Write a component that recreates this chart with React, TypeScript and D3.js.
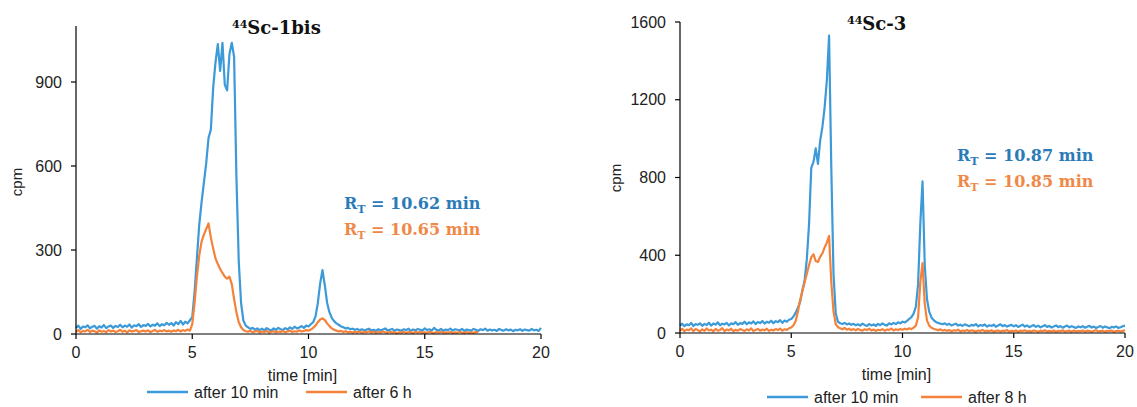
import React from 'react';
import * as d3 from 'd3';

// sampling step of the traces (min)
const STEP = 0.1;

// 44Sc-1bis, after 10 min (cpm, 0 .. 20 min)
const leftBlue = [
  22, 30, 18, 27, 24, 31, 20, 26, 29, 19,
  28, 23, 32, 21, 27, 30, 22, 29, 25, 33,
  24, 30, 26, 34, 23, 31, 28, 35, 25, 32,
  29, 36, 27, 33, 30, 38, 28, 35, 31, 40,
  33, 39, 30, 42, 35, 47, 34, 44, 38, 49,
  60, 150, 270, 390, 470, 540, 610, 700, 730, 880,
  970, 1035, 940, 1040, 890, 870, 1000, 1040, 990, 560,
  260, 110, 48, 30, 24, 18, 22, 15, 20, 14,
  19, 13, 21, 16, 12, 20, 15, 22, 17, 14,
  21, 16, 24, 18, 26, 20, 23, 28, 22, 30,
  27, 35, 42, 62, 110, 180, 228, 175, 112, 78,
  58, 46, 38, 33, 27, 24, 20, 22, 17, 19,
  15, 18, 13, 17, 12, 16, 19, 13, 15, 11,
  17, 13, 16, 20, 12, 15, 18, 11, 16, 14,
  12, 17, 14, 19, 11, 16, 13, 18, 15, 12,
  20, 14, 17, 12, 22, 15, 13, 18, 11, 16,
  14, 19, 12, 17, 15, 13, 18, 11, 16, 14,
  12, 18, 15, 11, 17, 14, 19, 12, 16, 13,
  15, 11, 18, 14, 12, 17, 13, 16, 10, 15,
  13, 17, 11, 16, 14, 12, 18, 13, 15, 11,
  22,
];

// 44Sc-1bis, after 6 h (0 .. 17.3 min)
const leftOrange = [
  8, 14, 6, 11, 9, 15, 7, 12, 10, 5,
  13, 8, 11, 6, 14, 9, 12, 7, 10, 15,
  8, 12, 6, 13, 9, 11, 14, 7, 10, 12,
  9, 13, 7, 11, 15, 8, 12, 10, 14, 9,
  12, 8, 13, 10, 15, 9, 14, 11, 16, 12,
  35, 110, 205, 280, 330, 355, 375, 395, 345, 305,
  270, 250, 232, 218, 205, 198, 205, 178, 125, 78,
  42, 24, 14, 10, 8, 12, 6, 9, 11, 5,
  9, 7, 11, 5, 8, 10, 6, 9, 7, 11,
  6, 9, 12, 7, 10, 8, 13, 9, 11, 14,
  12, 16, 22, 30, 42, 52, 56, 50, 38, 28,
  20, 15, 12, 9, 11, 7, 10, 6, 8, 5,
  8, 5, 9, 4, 7, 6, 10, 5, 8, 4,
  7, 5, 9, 6, 4, 8, 5, 7, 3, 6,
  5, 8, 4, 7, 6, 3, 8, 5, 7, 4,
  6, 4, 8, 5, 3, 7, 5, 8, 4, 6,
  5, 7, 3, 6, 4, 8, 5, 3, 7, 4,
  6, 4, 7, 5,
];

// 44Sc-3, after 10 min
const rightBlue = [
  38, 48, 35, 45, 40, 52, 36, 46, 42, 50,
  37, 47, 41, 53, 38, 49, 43, 55, 40, 48,
  44, 52, 39, 50, 45, 56, 42, 51, 47, 58,
  45, 55, 49, 60, 46, 57, 51, 62, 48, 58,
  53, 63, 50, 61, 56, 66, 52, 64, 58, 68,
  72, 85, 105, 130, 160, 220, 270, 380, 560, 850,
  880, 950, 870, 990, 1060, 1160, 1300, 1530, 850, 300,
  100, 58, 50, 46, 52, 44, 49, 42, 47, 40,
  45, 38, 48, 41, 36, 46, 39, 44, 37, 47,
  40, 49, 42, 38, 50, 44, 52, 46, 55, 50,
  58, 54, 62, 72, 82, 100, 135, 250, 560, 780,
  350, 175, 110, 80, 66, 57, 52, 48, 45, 50,
  42, 47, 39, 44, 48, 38, 43, 36, 45, 40,
  35, 42, 38, 46, 34, 41, 37, 44, 33, 40,
  36, 43, 32, 39, 45, 35, 41, 33, 38, 42,
  34, 40, 31, 37, 43, 33, 39, 30, 36, 41,
  32, 38, 29, 35, 40, 31, 37, 28, 34, 39,
  30, 36, 27, 33, 38, 29, 35, 31, 26, 34,
  29, 35, 27, 32, 37, 28, 33, 26, 31, 36,
  27, 33, 29, 24, 32, 28, 34, 26, 30, 35,
  38,
];

// 44Sc-3, after 8 h
const rightOrange = [
  12, 22, 9, 18, 14, 24, 10, 20, 15, 8,
  19, 11, 23, 13, 17, 9, 21, 12, 16, 25,
  10, 18, 14, 22, 9, 17, 12, 20, 15, 11,
  19, 13, 24, 10, 16, 21, 12, 18, 14, 22,
  11, 17, 13, 20, 15, 23, 12, 19, 16, 24,
  28, 40, 62, 110, 170, 215, 260, 305, 350, 390,
  405, 370, 365, 392, 410, 440, 465, 500, 260, 110,
  45, 30, 24, 19, 26, 17, 22, 15, 20, 14,
  21, 16, 12, 19, 15, 22, 13, 18, 11, 17,
  14, 20, 12, 18, 16, 23, 13, 19, 15, 21,
  17, 22, 18, 24, 20, 28, 38, 80, 260, 360,
  150, 65, 38, 27, 22, 18, 14, 19, 12, 16,
  11, 15, 9, 14, 12, 17, 8, 13, 10, 15,
  9, 14, 11, 7, 13, 10, 16, 8, 12, 9,
  14, 7, 11, 13, 8, 12, 10, 15, 7, 11,
  9, 13, 6, 12, 10, 14, 8, 11, 7, 13,
  10, 6, 12, 9, 14, 7, 11, 8, 13, 6,
  11, 9, 14, 7, 10, 12, 6, 13, 8, 11,
  9, 13, 7, 12, 10, 6, 11, 14, 8, 10,
  12, 7, 11, 9, 13, 6, 10, 12, 8, 11,
  14,
];

const xTicks = [0, 5, 10, 15, 20];
const leftYTicks = [0, 300, 600, 900];
const rightYTicks = [0, 400, 800, 1200, 1600];

const BLUE = '#3c9ad8';
const ORANGE = '#f5823a';
const BLUE_TXT = '#2a7bb8';
const ORANGE_TXT = '#f08848';
const SANS = '"Liberation Sans", Arial, sans-serif';
const SERIF = '"DejaVu Serif", serif';

type PanelProps = {
  x0: number; x1: number; yBase: number; yTop: number; yMax: number;
  yTicks: number[];
  title: string; titleX: number;
  blue: number[]; orange: number[];
  rtBlue: string; rtOrange: string; rtX: number; rtY: number;
  legendY: number; legendBlueX: number; legendOrangeX: number; orangeLabel: string;
  cpmX: number; cpmY: number;
};

const Panel = (p: PanelProps) => {
  const x = d3.scaleLinear().domain([0, 20]).range([p.x0, p.x1]);
  const y = d3.scaleLinear().domain([0, p.yMax]).range([p.yBase, p.yTop]);
  const line = d3.line<number>()
    .x((_, i) => x(i * STEP))
    .y(d => y(d));

  return (
    <g>
      {/* traces, later series on top like the spreadsheet */}
      <path d={line(p.blue) ?? ''} fill="none" stroke={BLUE} strokeWidth={2.2} strokeLinejoin="round" />
      <path d={line(p.orange) ?? ''} fill="none" stroke={ORANGE} strokeWidth={2.2} strokeLinejoin="round" />

      {/* axes */}
      <line x1={p.x0} x2={p.x0} y1={p.yBase} y2={p.yTop} stroke="#000" strokeWidth={1.2} />
      <line x1={p.x0} x2={p.x1} y1={p.yBase} y2={p.yBase} stroke="#000" strokeWidth={1.2} />
      {p.yTicks.map(t => (
        <g key={'y' + t}>
          <line x1={p.x0 - 5} x2={p.x0} y1={y(t)} y2={y(t)} stroke="#000" strokeWidth={1.2} />
          <text x={p.x0 - 14} y={y(t)} dy="0.35em" textAnchor="end" fontFamily={SANS} fontSize={16} fill="#222">{t}</text>
        </g>
      ))}
      {xTicks.map(t => (
        <g key={'x' + t}>
          <line x1={x(t)} x2={x(t)} y1={p.yBase} y2={p.yBase + 5} stroke="#000" strokeWidth={1.2} />
          <text x={x(t)} y={p.yBase + 18} dy="0.35em" textAnchor="middle" fontFamily={SANS} fontSize={16} fill="#222">{t}</text>
        </g>
      ))}
      <text x={(p.x0 + p.x1) / 2 - 6} y={p.yBase + 41} dy="0.35em" textAnchor="middle" fontFamily={SANS} fontSize={16} fill="#222">time [min]</text>
      <text transform={`translate(${p.cpmX},${p.cpmY}) rotate(-90)`} dy="0.35em" textAnchor="middle" fontFamily={SANS} fontSize={15} fill="#222">cpm</text>

      {/* title */}
      <text x={p.titleX} y={p.yTop + 8} fontFamily={SERIF} fontWeight="bold" fontSize={18} fill="#111">
        <tspan fontSize={11} dy={-6}>44</tspan>
        <tspan dy={6}>{p.title}</tspan>
      </text>

      {/* retention times */}
      {[{ v: p.rtBlue, c: BLUE_TXT, dy: 0 }, { v: p.rtOrange, c: ORANGE_TXT, dy: 26 }].map(r => (
        <text key={r.v} x={p.rtX} y={p.rtY + r.dy} fontFamily={SERIF} fontWeight="bold" fontSize={16} fill={r.c}>
          R<tspan fontSize={11} dy={4}>T</tspan><tspan dy={-4}>{` = ${r.v} min`}</tspan>
        </text>
      ))}

      {/* legend */}
      <line x1={p.legendBlueX} x2={p.legendBlueX + 41} y1={p.legendY} y2={p.legendY} stroke={BLUE} strokeWidth={2.5} />
      <text x={p.legendBlueX + 47} y={p.legendY} dy="0.35em" fontFamily={SANS} fontSize={16} fill="#222">after 10 min</text>
      <line x1={p.legendOrangeX} x2={p.legendOrangeX + 41} y1={p.legendY} y2={p.legendY} stroke={ORANGE} strokeWidth={2.5} />
      <text x={p.legendOrangeX + 47} y={p.legendY} dy="0.35em" fontFamily={SANS} fontSize={16} fill="#222">{p.orangeLabel}</text>
    </g>
  );
};

export default function App() {
  return (
    <svg width={1137} height={407} style={{ position: 'absolute', left: 0, top: 0, background: '#fff' }}>
      <Panel
        x0={76} x1={541} yBase={334} yTop={26} yMax={1100} yTicks={leftYTicks}
        title="Sc-1bis" titleX={232}
        blue={leftBlue} orange={leftOrange}
        rtBlue="10.62" rtOrange="10.65" rtX={344} rtY={209}
        legendY={392} legendBlueX={147} legendOrangeX={306} orangeLabel="after 6 h"
        cpmX={17} cpmY={182}
      />
      <Panel
        x0={680} x1={1125} yBase={333} yTop={22} yMax={1600} yTicks={rightYTicks}
        title="Sc-3" titleX={847}
        blue={rightBlue} orange={rightOrange}
        rtBlue="10.87" rtOrange="10.85" rtX={957} rtY={161}
        legendY={397} legendBlueX={767} legendOrangeX={921} orangeLabel="after 8 h"
        cpmX={616} cpmY={178}
      />
    </svg>
  );
}
